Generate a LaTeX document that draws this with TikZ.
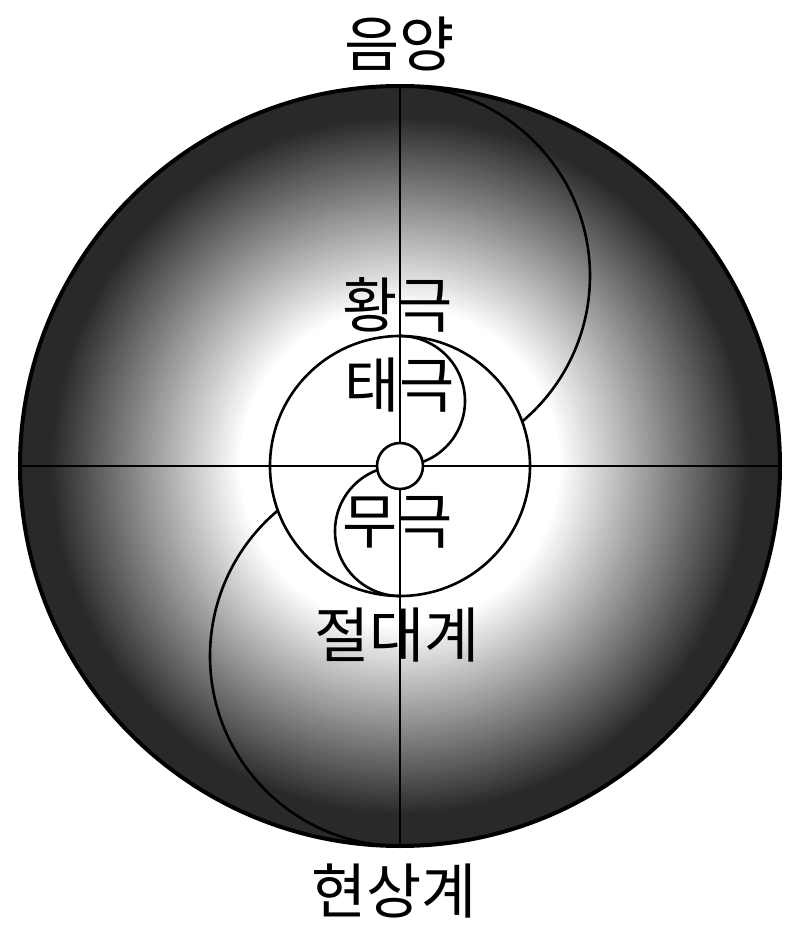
\documentclass[tikz,border=0pt]{standalone}
\usepackage{fontspec}
\newfontfamily\kor{Noto Sans CJK KR}
\begin{document}
\begin{tikzpicture}[x=1pt,y=1pt,
	line/.style={line width=2.6pt},
	word/.style={font=\kor\fontsize{60}{60}\selectfont, inner sep=0pt}]
	\useasboundingbox (-400,-466) rectangle (400,466);
	\coordinate (o) at (0,0);
	\coordinate (top) at (0,380);
	\coordinate (bottom) at (0,-380);
	\coordinate (west) at (-380,0);
	\coordinate (east) at (380,0);
	\coordinate (up) at (0,130);
	\coordinate (down) at (0,-130);
	
	\foreach \r in {380,378,...,160} {
		\pgfmathsetmacro\k{min(84,(\r-160)/190*84)}
		\fill[black!\k] (o) circle[radius=\r];
	}
	
	\draw[line] (west) -- (east);
	\draw[line] (top) -- (bottom);
	\draw[line] (o) circle[radius=130];
	
	\draw[line] (up) arc[start angle=90, end angle=-69.6, radius=65];
	\draw[line] (down) arc[start angle=-90, end angle=-249.6, radius=65];
	\draw[line] (top) arc[start angle=90, end angle=-50, radius=190];
	\draw[line] (bottom) arc[start angle=-90, end angle=-230, radius=190];
	
	\draw[line, fill=white] (o) circle[radius=23];
	\draw[line width=4pt] (o) circle[radius=380];
	
	\node[word] (yinyang) at (0,422) {음양};
	\node[word] (hwang) at (-2,161) {황극};
	\node[word] (tae) at (0,81) {태극};
	\node[word] (mu) at (-2,-56) {무극};
	\node[word] (absolute) at (-3,-169) {절대계};
	\node[word] (world) at (-6,-425) {현상계};
\end{tikzpicture}
\end{document}
